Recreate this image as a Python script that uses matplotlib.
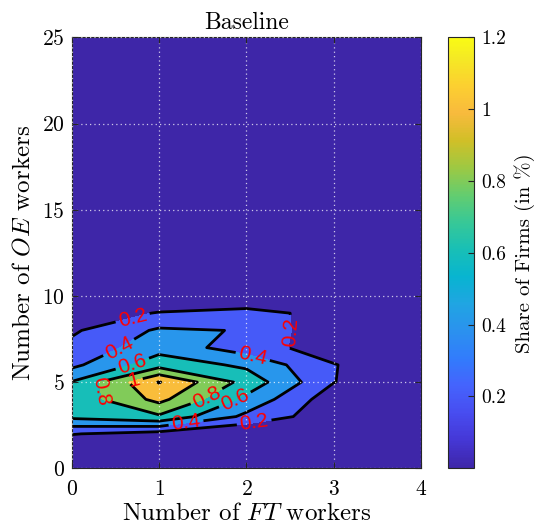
import numpy as np
import matplotlib
matplotlib.use("Agg")
import matplotlib.pyplot as plt
from matplotlib.colors import LinearSegmentedColormap, Normalize
from matplotlib.cm import ScalarMappable

# --- data: share of firms (in %) on the (FT, OE) worker grid ---
ft_workers = [0, 1, 2, 3, 4]
oe_workers = list(range(26))

#            y: 0  1     2     3     4     5     6     7     8     9     10    11    12 ... 25
share_ft0 = [0, 0.00, 0.21, 0.65, 0.66, 0.61, 0.35, 0.25, 0.17, 0.10, 0.05, 0.02,
             0, 0, 0, 0, 0, 0, 0, 0, 0, 0, 0, 0, 0, 0]
share_ft1 = [0, 0.00, 0.12, 0.77, 1.06, 1.21, 0.72, 0.52, 0.43, 0.21, 0.05, 0.02,
             0, 0, 0, 0, 0, 0, 0, 0, 0, 0, 0, 0, 0, 0]
share_ft2 = [0, 0.00, 0.00, 0.35, 0.55, 0.73, 0.56, 0.30, 0.39, 0.24, 0.09, 0.03,
             0, 0, 0, 0, 0, 0, 0, 0, 0, 0, 0, 0, 0, 0]
share_ft3 = [0, 0.00, 0.00, 0.07, 0.08, 0.205, 0.21, 0.09, 0.02, 0.16, 0.04, 0.00,
             0, 0, 0, 0, 0, 0, 0, 0, 0, 0, 0, 0, 0, 0]
share_ft4 = [0, 0, 0, 0, 0, 0, 0, 0, 0, 0, 0, 0,
             0, 0, 0, 0, 0, 0, 0, 0, 0, 0, 0, 0, 0, 0]

levels = [0.2, 0.4, 0.6, 0.8, 1.0, 1.2]
label_levels = [0.2, 0.4, 0.6, 0.8, 1.0]
cbar_ticks = [0.2, 0.4, 0.6, 0.8, 1.0, 1.2]

# label spots along the contours (data coords)
label_spots = [
    (0.70, 8.7), (2.50, 7.9), (2.09, 2.6),      # 0.2
    (0.55, 6.9), (2.07, 6.45), (1.31, 2.6),     # 0.4
    (0.70, 6.0), (1.86, 4.1),                   # 0.6
    (0.36, 4.5), (1.55, 4.1),                   # 0.8
    (0.72, 5.0),                                # 1
]

# parula-like colormap
parula_pts = [
    (0.2422, 0.1504, 0.6603), (0.2706, 0.2147, 0.8364), (0.2813, 0.3006, 0.9414),
    (0.2699, 0.3892, 0.9906), (0.1963, 0.4847, 0.9892), (0.1687, 0.5703, 0.9359),
    (0.1248, 0.6459, 0.8883), (0.0297, 0.7082, 0.8163), (0.0964, 0.7500, 0.7120),
    (0.2161, 0.7843, 0.5923), (0.3909, 0.8029, 0.4354), (0.6174, 0.7876, 0.2612),
    (0.8203, 0.7498, 0.1535), (0.9728, 0.7298, 0.2394), (0.9892, 0.8136, 0.1885),
    (0.9597, 0.9135, 0.1423), (0.9769, 0.9839, 0.0805),
]
parula_pos = [0, 4, 8, 12, 16, 20, 24, 28, 32, 36, 40, 44, 48, 52, 56, 60, 63]
parula = LinearSegmentedColormap.from_list(
    "parula", [(p / 63, c) for p, c in zip(parula_pos, parula_pts)], N=256)

plt.rcParams["font.family"] = ["cmr10"]
plt.rcParams["mathtext.fontset"] = "cm"
plt.rcParams["axes.formatter.use_mathtext"] = True

X, Y = np.meshgrid(ft_workers, oe_workers)
Z = np.column_stack([share_ft0, share_ft1, share_ft2, share_ft3, share_ft4])

norm = Normalize(vmin=0, vmax=1.2)
# each band takes the colour of its lower level
fill_levels = [-1] + levels + [10]
fill_colors = [parula(norm(v)) for v in [0] + levels]

fig = plt.figure(figsize=(5.34, 5.29), dpi=100)
ax = fig.add_axes([0.134, 0.1147, 0.655, 0.8148])

ax.contourf(X, Y, Z, levels=fill_levels, colors=fill_colors)
cs = ax.contour(X, Y, Z, levels=levels, colors="k", linewidths=2)

with plt.rc_context({"font.family": ["Liberation Sans"]}):
    cs.clabel(levels=label_levels, manual=label_spots, fmt="%g",
              colors="red", fontsize=15, inline=True, inline_spacing=3)

ax.set_xlim(0, 4)
ax.set_ylim(0, 25)
ax.set_xticks(ft_workers)
ax.set_yticks([0, 5, 10, 15, 20, 25])
ax.set_axisbelow(False)
ax.grid(True, color="white", alpha=0.75, linestyle=(0, (1, 2.5)), linewidth=0.9)
ax.tick_params(direction="in", length=4, labelsize=15.5, color="#262626",
               top=True, right=True)
ax.tick_params(axis="x", pad=8)
ax.tick_params(axis="y", pad=5)
for sp in ax.spines.values():
    sp.set_color("#262626")
    sp.set_linewidth(0.8)

ax.set_xlabel(r"Number of $FT$ workers", fontsize=18, labelpad=3)
ax.set_ylabel(r"Number of $OE$ workers", fontsize=18, labelpad=5)
ax.set_title("Baseline", fontsize=17, pad=6)

cax = fig.add_axes([0.8395, 0.1147, 0.048, 0.8148])
cb = fig.colorbar(ScalarMappable(norm=norm, cmap=parula), cax=cax,
                  ticks=cbar_ticks, format="%g")
cb.ax.tick_params(direction="in", length=4, labelsize=14, color="#262626", pad=5)
cb.outline.set_edgecolor("#262626")
cb.outline.set_linewidth(0.8)
cb.set_label("Share of Firms (in %)", fontsize=15, labelpad=6)

fig.savefig("out.png", dpi=100)
